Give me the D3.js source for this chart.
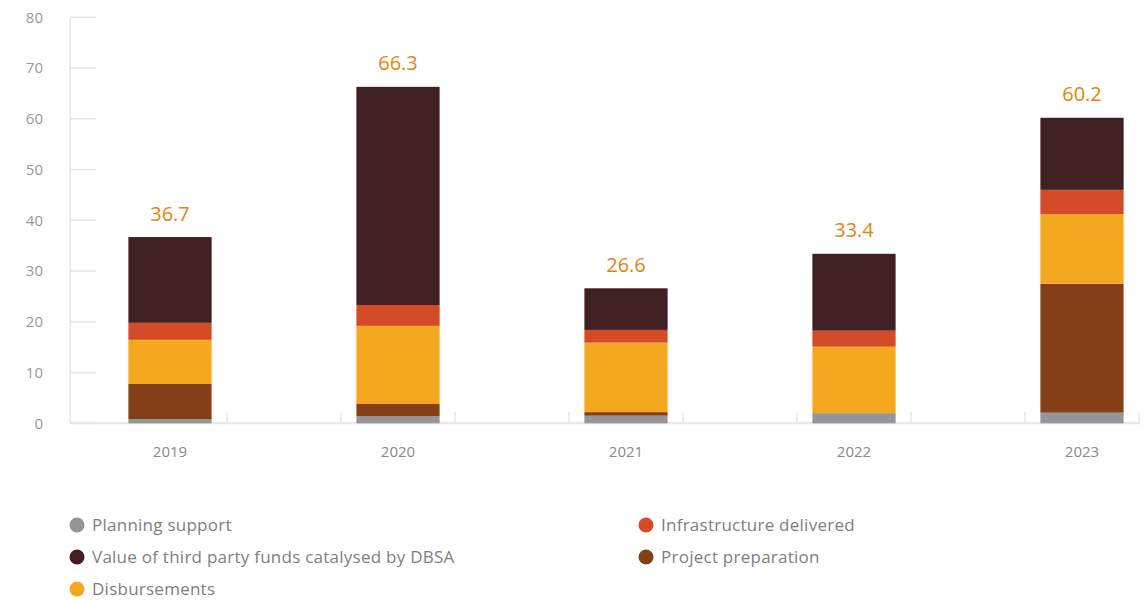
<!DOCTYPE html>
<html><head><meta charset="utf-8">
<script src="https://cdn.jsdelivr.net/npm/d3@7"></script>
<style>
body{margin:0;background:#fff;}
text{font-family:"Open Sans","Lato",sans-serif;}
</style></head>
<body><svg id="c" width="1144" height="601"></svg>
<script>
const years = ["2019","2020","2021","2022","2023"];
const planningSupport = [0.85, 1.4, 1.5, 2.0, 2.1];
const projectPreparation = [6.9, 2.4, 0.7, 0, 25.4];
const disbursements = [8.7, 15.4, 13.7, 13.1, 13.7];
const infrastructureDelivered = [3.35, 4.1, 2.5, 3.15, 4.8];
const thirdPartyFunds = [16.9, 43.0, 8.2, 15.15, 14.2];
const totals = [36.7, 66.3, 26.6, 33.4, 60.2];
const yTicks = [0,10,20,30,40,50,60,70,80];

const seriesDefs = [
  {key:"plan", name:"Planning support", values:planningSupport, color:"#939598"},
  {key:"prep", name:"Project preparation", values:projectPreparation, color:"#843f16"},
  {key:"disb", name:"Disbursements", values:disbursements, color:"#f4a81f"},
  {key:"infra", name:"Infrastructure delivered", values:infrastructureDelivered, color:"#d54a27"},
  {key:"third", name:"Value of third party funds catalysed by DBSA", values:thirdPartyFunds, color:"#402022"}
];
const rows = years.map((yr,i)=>{const r={year:yr}; seriesDefs.forEach(s=>r[s.key]=s.values[i]); return r;});
const stack = d3.stack().keys(seriesDefs.map(s=>s.key))(rows);

const svg = d3.select("#c");
const pLeft=70, pRight=1140, pTop=17.3, pBottom=423.3;
const x = d3.scaleBand().domain(years).range([56,1196]).paddingInner(0.635).paddingOuter(0.3175);
const y = d3.scaleLinear().domain([0,80]).range([pBottom, pTop]);
const step = x.step();

// y axis
const g = svg.append("g");
g.append("line").attr("x1",pLeft).attr("x2",pLeft).attr("y1",pTop).attr("y2",pBottom).attr("stroke","#e6e6e6").attr("stroke-width",1.5);
g.selectAll(".gt").data(yTicks).join("line").attr("x1",pLeft).attr("x2",96)
  .attr("y1",d=>y(d)).attr("y2",d=>y(d)).attr("stroke","#e6e6e6").attr("stroke-width",1.5);
g.selectAll(".yl").data(yTicks).join("text").attr("x",43).attr("y",d=>y(d)).attr("dy","0.35em")
  .attr("text-anchor","end").attr("fill","#999").attr("font-size",15).text(d=>d);

// x axis
g.append("line").attr("x1",pLeft).attr("x2",pRight).attr("y1",pBottom).attr("y2",pBottom).attr("stroke","#e6e6e6").attr("stroke-width",2);
const xt=[];
years.forEach((yr,i)=>{const c=x(yr)+x.bandwidth()/2; if(i>0) xt.push(c-step/4); xt.push(c+step/4);});
g.selectAll(".xt").data(xt).join("line").attr("x1",d=>d).attr("x2",d=>d).attr("y1",pBottom-11).attr("y2",pBottom)
  .attr("stroke","#e6e6e6").attr("stroke-width",1.5);
g.selectAll(".xl").data(years).join("text").attr("x",d=>x(d)+x.bandwidth()/2).attr("y",452).attr("dy","0.35em")
  .attr("text-anchor","middle").attr("fill","#888").attr("font-size",15).text(d=>d);

// bars
stack.forEach((layer,li)=>{
  svg.append("g").attr("fill",seriesDefs[li].color).selectAll("rect").data(layer).join("rect")
    .attr("x",d=>x(d.data.year)).attr("width",x.bandwidth())
    .attr("y",d=>y(d[1])).attr("height",d=>Math.max(0,y(d[0])-y(d[1])));
});

// totals
svg.append("g").selectAll("text").data(years).join("text")
  .attr("x",d=>x(d)+x.bandwidth()/2).attr("y",(d,i)=>y(totals[i])-16.5)
  .attr("text-anchor","middle").attr("fill","#e3850c").attr("font-size",20)
  .text((d,i)=>totals[i].toFixed(1));

// legend
const legend = [
  {s:0,x:77,y:525},{s:3,x:646,y:525},
  {s:4,x:77,y:557},{s:1,x:646,y:557},
  {s:2,x:77,y:589}
];
const lg = svg.append("g").selectAll("g").data(legend).join("g").attr("transform",d=>`translate(${d.x},${d.y})`);
lg.append("circle").attr("r",7.5).attr("fill",d=>seriesDefs[d.s].color);
lg.append("text").attr("x",15).attr("dy","0.35em").attr("fill","#808080").attr("font-size",17).attr("letter-spacing",0.25).text(d=>seriesDefs[d.s].name);
</script></body></html>
